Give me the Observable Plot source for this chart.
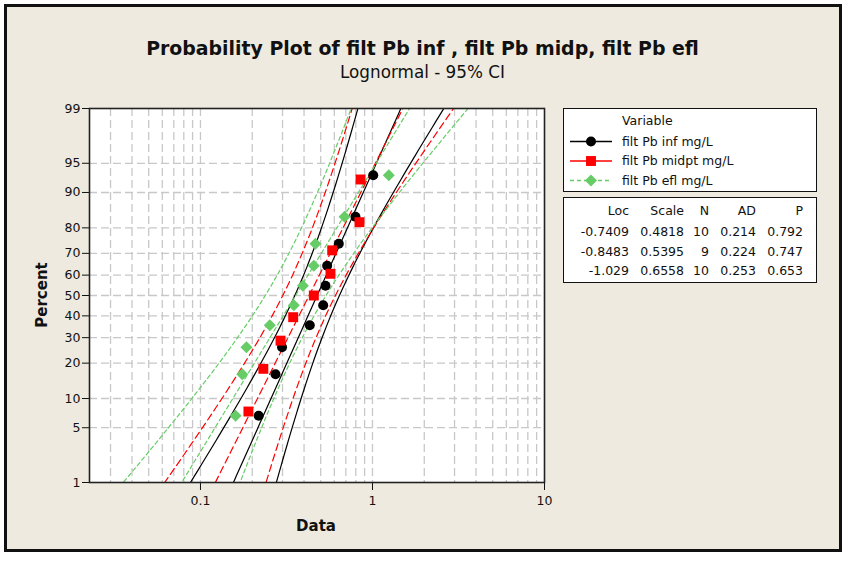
<!DOCTYPE html>
<html><head><meta charset="utf-8">
<script src="https://cdn.jsdelivr.net/npm/d3@7"></script>
<script src="https://cdn.jsdelivr.net/npm/@observablehq/plot@0.6"></script>
<style>
body{margin:0;background:#fff;width:845px;height:565px;overflow:hidden;position:relative;font-family:"DejaVu Sans",Verdana,sans-serif;color:#111;}
#frame{position:absolute;left:4px;top:4px;width:832px;height:542px;border:3px solid #111;background:#EEEADF;}
#chart{position:absolute;left:0;top:0;}
.t{position:absolute;white-space:nowrap;}
#title{left:0;width:845px;text-align:center;top:37px;font-weight:bold;font-size:18px;line-height:22px;}
#subtitle{left:0;width:845px;text-align:center;top:62px;font-size:16px;line-height:20px;}
#xlabel{left:216px;width:200px;text-align:center;top:517px;font-weight:bold;font-size:15px;}
#ylabel{left:-58px;width:200px;text-align:center;top:286px;font-weight:bold;font-size:15px;transform:rotate(-90deg);}
.box{position:absolute;background:#fff;border:1.5px solid #111;box-sizing:border-box;}
.lt{position:absolute;font-size:12.5px;line-height:16px;white-space:nowrap;}
</style></head>
<body>
<div id="frame"></div>
<div id="chart"></div>
<div class="t" id="title"><span>Probability Plot of filt Pb inf , filt Pb midp, filt Pb efl</span></div>
<div class="t" id="subtitle"><span>Lognormal - 95% CI</span></div>
<div class="t" id="xlabel">Data</div>
<div class="t" id="ylabel">Percent</div>
<div id="legend"></div>
<script>
// ---------- data ----------
const seriesNames = ["filt Pb inf mg/L", "filt Pb midpt mg/L", "filt Pb efl mg/L"];
const infValues   = [0.218, 0.273, 0.298, 0.432, 0.517, 0.533, 0.545, 0.637, 0.796, 1.01];
const midptValues = [0.190, 0.232, 0.292, 0.346, 0.456, 0.570, 0.583, 0.840, 0.852];
const eflValues   = [0.160, 0.175, 0.185, 0.253, 0.349, 0.394, 0.456, 0.466, 0.688, 1.244];
const locs   = [-0.7409, -0.8483, -1.029];
const scales = [0.4818, 0.5395, 0.6558];
const ns     = [10, 9, 10];
const ads    = [0.214, 0.224, 0.253];
const ps     = [0.792, 0.747, 0.653];
const locLabels   = ["-0.7409", "-0.8483", "-1.029"];
const scaleLabels = ["0.4818", "0.5395", "0.6558"];
const adLabels    = ["0.214", "0.224", "0.253"];
const pLabels     = ["0.792", "0.747", "0.653"];
const percentTicks = [1, 5, 10, 20, 30, 40, 50, 60, 70, 80, 90, 95, 99];
const gridPercents = [5, 10, 20, 30, 40, 50, 60, 70, 80, 90, 95];
const xTicks = [0.1, 1, 10];
const xTickLabels = ["0.1", "1", "10"];
const gridX = [0.03,0.04,0.05,0.06,0.07,0.08,0.09,0.1,0.2,0.3,0.4,0.5,0.6,0.7,0.8,0.9,1,2,3,4,5,6,7,8,9];

// ---------- styles ----------
const colors = ["#000000", "#FF0000", "#66CC66"];
const dashes = [null, "7,4", "4,3"];
const symbols = ["circle", "square", "diamond2"];
const radii = [5, 5.6, 5.4];

// fit title widths to the reference
function fitWidth(id, target){
  const span = document.querySelector("#" + id + " span");
  const parent = document.getElementById(id);
  const fs = parseFloat(getComputedStyle(parent).fontSize);
  const w = span.getBoundingClientRect().width;
  parent.style.fontSize = (fs * target / w) + "px";
}
fitWidth("title", 553);
fitWidth("subtitle", 165);

// inverse standard normal CDF (probability-scale transform)
function qnorm(p){
  const a=[-3.969683028665376e+01,2.209460984245205e+02,-2.759285104469687e+02,1.383577518672690e+02,-3.066479806614716e+01,2.506628277459239e+00];
  const b=[-5.447609879822406e+01,1.615858368580409e+02,-1.556989798598866e+02,6.680131188771972e+01,-1.328068155288572e+01];
  const c=[-7.784894002430293e-03,-3.223964580411365e-01,-2.400758277161838e+00,-2.549671875496682e+00,4.374664141464968e+00,2.938163982698783e+00];
  const d=[7.784695709041462e-03,3.224671290700398e-01,2.445134137142996e+00,3.754408661907416e+00];
  const pl=0.02425, ph=1-pl; let q,r;
  if(p<pl){q=Math.sqrt(-2*Math.log(p));return (((((c[0]*q+c[1])*q+c[2])*q+c[3])*q+c[4])*q+c[5])/((((d[0]*q+d[1])*q+d[2])*q+d[3])*q+1);}
  if(p<=ph){q=p-0.5;r=q*q;return (((((a[0]*r+a[1])*r+a[2])*r+a[3])*r+a[4])*r+a[5])*q/(((((b[0]*r+b[1])*r+b[2])*r+b[3])*r+b[4])*r+1);}
  q=Math.sqrt(-2*Math.log(1-p));return -(((((c[0]*q+c[1])*q+c[2])*q+c[3])*q+c[4])*q+c[5])/((((d[0]*q+d[1])*q+d[2])*q+d[3])*q+1);
}

const allValues = [infValues, midptValues, eflValues];
// points at median-rank plotting positions
const points = allValues.map((vals, s) => {
  const n = vals.length;
  return vals.map((v, i) => ({v, z: qnorm((i + 1 - 0.3) / (n + 0.4)), s}));
});
// fitted lognormal line and 95% CI from Loc / Scale / N
const zs = d3.range(-2.45, 2.46, 0.05);
const fits = locs.map((mu, s) => {
  const sg = scales[s], n = ns[s];
  const center = [], lower = [], upper = [];
  zs.forEach(z => {
    const m = mu + sg * z;
    const h = 1.96 * sg * Math.sqrt(1 / n + z * z / (2 * n));
    center.push({x: Math.exp(m), z});
    lower.push({x: Math.exp(m - h), z});
    upper.push({x: Math.exp(m + h), z});
  });
  return [center, lower, upper];
});

const yTickZ = percentTicks.map(p => qnorm(p / 100));
const marks = [
  Plot.frame({fill: "white"}),
  Plot.ruleX(gridX, {stroke: "#c8c8c8", strokeWidth: 1.3, strokeDasharray: "8,4"}),
  Plot.ruleY(gridPercents.map(p => qnorm(p / 100)), {stroke: "#c8c8c8", strokeWidth: 1.3, strokeDasharray: "8,4"})
];
fits.forEach((curves, s) => {
  curves.forEach(curve => {
    marks.push(Plot.line(curve, {x: "x", y: "z", stroke: colors[s], strokeWidth: 1.2,
      strokeDasharray: dashes[s] || undefined, clip: true, curve: "linear"}));
  });
});
points.forEach((pts, s) => {
  marks.push(Plot.dot(pts, {x: "v", y: "z", r: radii[s], fill: colors[s], stroke: "none", symbol: symbols[s], clip: true}));
});
marks.push(Plot.frame({stroke: "#222", strokeWidth: 1.6}));

const chart = Plot.plot({
  width: 845, height: 565,
  marginLeft: 89, marginRight: 301, marginTop: 108, marginBottom: 83,
  style: {background: "transparent", fontFamily: "DejaVu Sans, Verdana, sans-serif", fontSize: "12.5px", color: "#111", overflow: "visible"},
  x: {type: "log", domain: [0.02264, 10], ticks: xTicks, tickFormat: d => xTickLabels[xTicks.indexOf(d)], tickSize: 8, tickPadding: 6, label: null},
  y: {domain: [qnorm(0.01), qnorm(0.99)], ticks: yTickZ, tickFormat: d => String(percentTicks[yTickZ.indexOf(d)]), tickSize: 7, tickPadding: 2, label: null},
  marks
});
document.getElementById("chart").appendChild(chart);

// ---------- legend ----------
const leg = document.getElementById("legend");
function el(tag, cls, style, text){ const e=document.createElement(tag); if(cls) e.className=cls; Object.assign(e.style, style); if(text!=null) e.textContent=text; leg.appendChild(e); return e; }
el("div","box",{left:"563px",top:"108px",width:"254px",height:"84px"});
el("div","box",{left:"563px",top:"197px",width:"254px",height:"86px"});
el("div","lt",{left:"622px",top:"113px"},"Variable");
const rowY = [141.5, 161, 180.5];
const svg = d3.select(leg).append("svg").attr("width",845).attr("height",565)
  .style("position","absolute").style("left","0").style("top","0");
seriesNames.forEach((name, s) => {
  const y = rowY[s];
  svg.append("line").attr("x1",570).attr("x2",612).attr("y1",y).attr("y2",y)
    .attr("stroke",colors[s]).attr("stroke-width",1.3).attr("stroke-dasharray", s===2 ? "4,3" : null);
  const sym = {circle: d3.symbolCircle, square: d3.symbolSquare, diamond2: d3.symbolDiamond2}[symbols[s]];
  svg.append("path").attr("d", d3.symbol(sym, radii[s]*radii[s]*Math.PI)()).attr("transform",`translate(591,${y})`).attr("fill",colors[s]);
  el("div","lt",{left:"622px",top:(y-8)+"px"},name);
});
// statistics table (right-aligned columns)
const colRight = [629, 684, 709, 756, 803];
const header = ["Loc","Scale","N","AD","P"];
const tableRows = [header].concat(locLabels.map((l,i)=>[l, scaleLabels[i], String(ns[i]), adLabels[i], pLabels[i]]));
const tableY = [211, 231.5, 251.5, 271];
tableRows.forEach((row, r) => {
  row.forEach((txt, c) => {
    el("div","lt",{left:(colRight[c]-100)+"px",width:"100px",textAlign:"right",top:(tableY[r]-8)+"px"},txt);
  });
});
</script>
</body></html>
